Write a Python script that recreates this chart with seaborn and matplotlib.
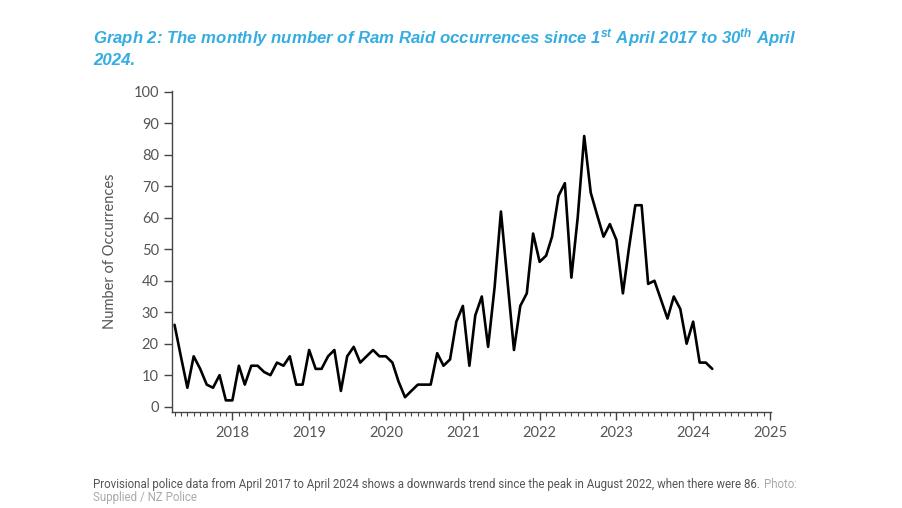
import numpy as np
import pandas as pd
import matplotlib
matplotlib.use("Agg")
import matplotlib.pyplot as plt
import matplotlib.dates as mdates
import seaborn as sns

# monthly ram raid counts, April 2017 - April 2024
counts_2017 = [26, 16, 6, 16, 12, 7, 6, 10, 2]
counts_2018 = [2, 13, 7, 13, 13, 11, 10, 14, 13, 16, 7, 7]
counts_2019 = [18, 12, 12, 16, 18, 5, 16, 19, 14, 16, 18, 16]
counts_2020 = [16, 14, 8, 3, 5, 7, 7, 7, 17, 13, 15, 27]
counts_2021 = [32, 13, 29, 35, 19, 38, 62, 40, 18, 32, 36, 55]
counts_2022 = [46, 48, 54, 67, 71, 41, 60, 86, 68, 61, 54, 58]
counts_2023 = [53, 36, 50, 64, 64, 39, 40, 34, 28, 35, 31, 20]
counts_2024 = [27, 14, 14, 12]

counts = (counts_2017 + counts_2018 + counts_2019 + counts_2020
          + counts_2021 + counts_2022 + counts_2023 + counts_2024)
months = pd.date_range("2017-04-01", periods=len(counts), freq="MS")
df = pd.DataFrame({"month": months, "occurrences": counts})

title = ("Graph 2: The monthly number of Ram Raid occurrences since "
         "1$^{\\mathbf{st}}$ April 2017 to 30$^{\\mathbf{th}}$ April\n2024.")
caption = ("Provisional police data from April 2017 to April 2024 shows a downwards "
           "trend since the peak in August 2022, when there were 86.")

sns.set_style("ticks")
plt.rcParams["font.family"] = ["Lato", "DejaVu Sans"]
plt.rcParams["mathtext.fontset"] = "custom"
plt.rcParams["mathtext.bf"] = "Liberation Sans:italic:bold"
plt.rcParams["mathtext.rm"] = "Liberation Sans:italic:bold"
plt.rcParams["mathtext.default"] = "bf"

fig = plt.figure(figsize=(9.03, 5.08), dpi=100)
ax = fig.add_axes([0.1905, 0.1896, 0.6635, 0.6313])

sns.lineplot(data=df, x="month", y="occurrences", color="black", linewidth=1.9, ax=ax)

ax.set_ylim(-1.6, 100.3)
ax.set_yticks(range(0, 101, 10))
ax.set_xlim(pd.Timestamp("2017-03-20"), pd.Timestamp("2025-01-06"))
ax.xaxis.set_major_locator(mdates.YearLocator())
ax.xaxis.set_major_formatter(mdates.DateFormatter("%Y"))
ax.xaxis.set_minor_locator(mdates.MonthLocator())

for s in ["top", "right"]:
    ax.spines[s].set_visible(False)
for s in ["left", "bottom"]:
    ax.spines[s].set_color("#444444")
    ax.spines[s].set_linewidth(1.0)

ax.tick_params(axis="both", which="major", colors="#444444", labelcolor="#555555",
               labelsize=10.5, length=6, width=1.0)
ax.tick_params(axis="x", which="minor", colors="#444444", length=3, width=0.8)
ax.tick_params(axis="x", which="major", pad=4)

ax.set_xlabel("")
ax.set_ylabel("Number of Occurrences", color="#555555", fontsize=10.5, labelpad=12)

fig.text(0.103, 0.948, title, color="#34ADE1", fontsize=12.1, fontweight="bold",
         fontstyle="italic", family="Liberation Sans", va="top", linespacing=1.3)

cap = fig.text(0.103, 0.034, caption, color="#555555", fontsize=8.3,
               family="Roboto", va="bottom")
ax.annotate("Photo:", xy=(1, 0), xycoords=cap, xytext=(3, 0), textcoords="offset points",
            color="#AAAAAA", fontsize=8.3, family="Roboto", va="bottom")
fig.text(0.103, 0.008, "Supplied / NZ Police", color="#AAAAAA", fontsize=8.3,
         family="Roboto", va="bottom")

fig.savefig("out.png", dpi=100)
